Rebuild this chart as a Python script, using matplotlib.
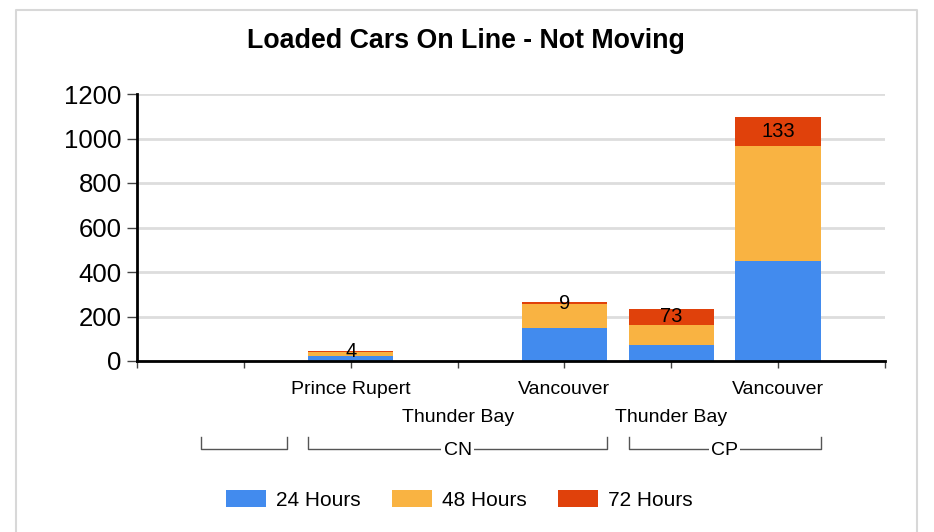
import matplotlib
matplotlib.use("Agg")
import matplotlib.pyplot as plt
from matplotlib.lines import Line2D
from matplotlib.patches import Patch

plt.rcParams['font.family'] = ['Liberation Sans', 'DejaVu Sans']

# ---- data ----
categories = ["", "Prince Rupert", "Thunder Bay", "Vancouver", "Thunder Bay", "Vancouver"]
groups = ["", "CN", "CP"]
group_members = [[0], [1, 2, 3], [4, 5]]
hours24 = [0, 22, 0, 150, 72, 450]
hours48 = [0, 19, 0, 106, 90, 515]
hours72 = [0, 4, 0, 9, 73, 133]
series_names = ["24 Hours", "48 Hours", "72 Hours"]
colors = ["#428BEE", "#F9B342", "#E0410B"]
yticks = [0, 200, 400, 600, 800, 1000, 1200]

W, H = 934, 532
fig = plt.figure(figsize=(W / 100, H / 100), dpi=100)
fig.patch.set_facecolor("white")

L, R, T, B = 137, 885, 94, 361
ax = fig.add_axes([L / W, 1 - B / H, (R - L) / W, (B - T) / H])

x = [i + 1 for i in range(len(categories))]
bw = 0.8
b1 = ax.bar(x, hours24, bw, color=colors[0], zorder=3)
bot2 = hours24
b2 = ax.bar(x, hours48, bw, bottom=bot2, color=colors[1], zorder=3)
bot3 = [a + b for a, b in zip(hours24, hours48)]
b3 = ax.bar(x, hours72, bw, bottom=bot3, color=colors[2], zorder=3)

for xi, v, b in zip(x, hours72, bot3):
    if v > 0:
        ax.text(xi, b + v / 2, str(v), ha="center", va="center",
                fontsize=14.5, color="black", zorder=5)

ax.set_xlim(0, len(categories) + 1)
ax.set_ylim(0, 1200)
ax.set_yticks(yticks)
ax.set_yticklabels([str(v) for v in yticks], fontsize=18.5)
ax.set_xticks(range(0, len(categories) + 2))
ax.set_xticklabels([])
ax.tick_params(axis="y", length=7, width=1, color="#444444", pad=4)
ax.tick_params(axis="x", length=5, width=1, color="#444444")

ax.grid(axis="y", color="#DDDDDD", linewidth=2, zorder=0)
ax.set_axisbelow(True)
for s in ["top", "right"]:
    ax.spines[s].set_visible(False)
for s in ["left", "bottom"]:
    ax.spines[s].set_linewidth(2)
    ax.spines[s].set_color("black")
    ax.spines[s].set_zorder(4)

def ay(px):
    return (B - px) / (B - T)

tr = ax.get_xaxis_transform()
# category labels in two staggered rows
for i, (xi, name) in enumerate(zip(x, categories)):
    if not name:
        continue
    row_y = 389 if i % 2 == 1 else 417
    ax.text(xi, ay(row_y), name, transform=tr, ha="center", va="center",
            fontsize=14, color="black", clip_on=False)

# group brackets
line_y = ay(449)
tick_y = ay(437)
for g, mem in zip(groups, group_members):
    x0 = x[mem[0]] - 0.4
    x1 = x[mem[-1]] + 0.4
    ax.add_line(Line2D([x0, x0, x1, x1], [tick_y, line_y, line_y, tick_y],
                       transform=tr, color="#555555", linewidth=1,
                       clip_on=False))
    if g:
        ax.text((x0 + x1) / 2, ay(450.5), g, transform=tr, ha="center",
                va="center", fontsize=14, color="black", clip_on=False,
                bbox=dict(facecolor="white", edgecolor="none", pad=1.5))

# title
fig.text(466 / W, 1 - 41 / H, "Loaded Cars On Line - Not Moving",
         ha="center", va="center", fontsize=19.3, fontweight="bold")

# legend
handles = [Patch(facecolor=c, edgecolor="none") for c in colors]
fig.legend(handles, series_names, loc="center", bbox_to_anchor=(459 / W, 1 - 500 / H),
           ncol=3, frameon=False, fontsize=15, handlelength=1.92,
           handleheight=0.87, handletextpad=0.48, columnspacing=1.5)

# outer frame (left, top, right)
fig.add_artist(Line2D([15.5 / W, 15.5 / W, 917 / W, 917 / W],
                      [0, 1 - 10 / H, 1 - 10 / H, 0], transform=fig.transFigure,
                      color="#D8D8D8", linewidth=1.5))

fig.savefig("out.png", dpi=100, facecolor="white")
